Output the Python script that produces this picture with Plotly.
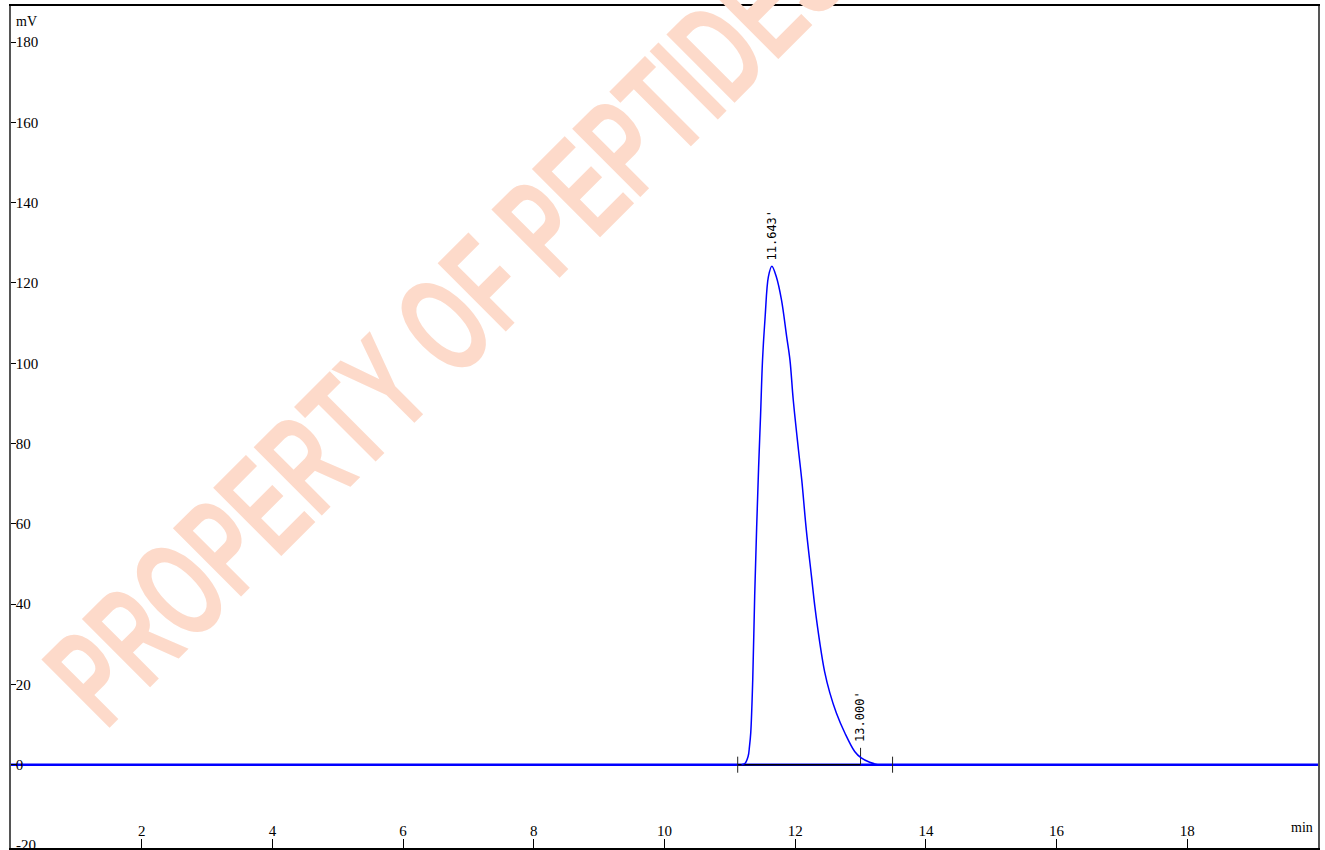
import plotly.graph_objects as go

# ---- data ----
peak_time = [11.18, 11.23, 11.28, 11.30, 11.32, 11.35, 11.38, 11.41, 11.44, 11.47,
             11.50, 11.54, 11.59, 11.643, 11.71, 11.79, 11.87, 11.92, 11.97, 12.05,
             12.10, 12.17, 12.25, 12.30, 12.38, 12.45, 12.53, 12.63, 12.76, 12.91,
             13.01, 13.14, 13.26]
peak_mv = [0.0, 0.3, 2.1, 4.5, 8.0, 21.0, 42.0, 59.0, 74.0, 87.0,
           100.8, 111.6, 121.6, 124.2, 121.6, 115.8, 106.6, 100.8, 90.9, 78.4,
           71.0, 58.5, 46.8, 39.5, 30.0, 23.2, 17.9, 12.9, 7.9, 3.3,
           1.7, 0.6, 0.0]
baseline_time = [0.0, 20.0]
baseline_mv = [0.0, 0.0]
integ_start, integ_end = 11.12, 13.49
event_times = [11.12, 13.49]
event_half = 2.0
mark_time = 13.000
mark_top = 4.2
peak_labels = ["11.643'", "13.000'"]
peak_label_times = [11.643, 13.000]
peak_label_mv = [124.2, 4.2]
x_ticks = [2, 4, 6, 8, 10, 12, 14, 16, 18]
y_ticks = [-20, 0, 20, 40, 60, 80, 100, 120, 140, 160, 180]
x_range = [0, 20]
y_range = [-20.75, 189]
watermark = "PROPERTY OF PEPTIDES"

fig = go.Figure()

# blue baseline across full run
fig.add_trace(go.Scatter(x=baseline_time, y=baseline_mv, mode="lines",
                         line=dict(color="#0000FF", width=2.6), hoverinfo="skip"))
# black integration baseline
fig.add_trace(go.Scatter(x=[integ_start, mark_time], y=[0, 0], mode="lines",
                         line=dict(color="#000000", width=1.4), hoverinfo="skip"))
# event tick marks
for t in event_times:
    fig.add_trace(go.Scatter(x=[t, t], y=[-event_half, event_half], mode="lines",
                             line=dict(color="#222222", width=1), hoverinfo="skip"))
fig.add_trace(go.Scatter(x=[mark_time, mark_time], y=[0, mark_top], mode="lines",
                         line=dict(color="#222222", width=1), hoverinfo="skip"))
# peak signal
fig.add_trace(go.Scatter(x=peak_time, y=peak_mv, mode="lines",
                         line=dict(color="#0000FF", width=1.5, shape="spline", smoothing=1.0),
                         hoverinfo="skip"))

# watermark
fig.add_annotation(text=watermark, xref="paper", yref="paper",
                   x=0.333, y=0.624, xanchor="center", yanchor="middle",
                   showarrow=False, textangle=-45,
                   font=dict(family="Liberation Sans, Arial, sans-serif", weight="bold",
                             size=140, color="#FDDACA"))

# peak labels
for lab, t, v in zip(peak_labels, peak_label_times, peak_label_mv):
    fig.add_annotation(text=lab, x=t, y=v, xref="x", yref="y", showarrow=False,
                       textangle=-90, xanchor="center", yanchor="bottom", yshift=4,
                       font=dict(family="DejaVu Sans Mono, Liberation Mono, monospace",
                                 size=12, color="#000000"))

# lowest y tick label, partly cut by the bottom edge as in the original
fig.add_annotation(text=str(y_ticks[0]), x=0, y=y_ticks[0], xref="x", yref="y",
                   xanchor="left", yanchor="middle", xshift=3, showarrow=False,
                   font=dict(family="Liberation Serif, Times New Roman, serif", size=15, color="#000"))

fig.add_annotation(text="mV", xref="paper", yref="paper", x=0.002, y=0.981,
                   xanchor="left", yanchor="middle", showarrow=False,
                   font=dict(family="Liberation Serif, Times New Roman, serif", size=14, color="#000"))
fig.add_annotation(text="min", xref="paper", yref="paper", x=0.998, y=0.024,
                   xanchor="right", yanchor="middle", showarrow=False,
                   font=dict(family="Liberation Serif, Times New Roman, serif", size=14, color="#000"))

fig.update_layout(
    width=1325, height=850,
    margin=dict(l=11, r=7, t=6, b=2),
    paper_bgcolor="white", plot_bgcolor="white",
    showlegend=False,
    xaxis=dict(range=x_range, tickvals=x_ticks, ticks="inside", ticklen=9, tickwidth=1,
               tickcolor="#000", ticklabelposition="inside", showline=True, linecolor="#000",
               linewidth=1.6, mirror=True, showgrid=False, zeroline=False,
               tickfont=dict(family="Liberation Serif, Times New Roman, serif", size=15, color="#000")),
    yaxis=dict(range=y_range, tickvals=y_ticks, ticks="inside", ticklen=5, tickwidth=1,
               tickcolor="#000", ticklabelposition="inside", showline=True, linecolor="#555",
               linewidth=1.6, mirror=True, showgrid=False, zeroline=False,
               tickfont=dict(family="Liberation Serif, Times New Roman, serif", size=15, color="#000")),
)

post = """
document.body.style.margin='0';
document.body.style.overflow='hidden';
var gd = document.getElementById('{plot_id}');
function squeeze(){
  gd.querySelectorAll('text.annotation-text').forEach(function(t){
    if (t.textContent.indexOf('PROPERTY') >= 0) {
      t.setAttribute('textLength', '1060');
      t.setAttribute('lengthAdjust', 'spacingAndGlyphs');
    }
  });
}
squeeze();
setTimeout(squeeze, 50);
if (gd.on) { gd.on('plotly_afterplot', squeeze); }
"""
fig.write_html("out.html", post_script=post, config={"displayModeBar": False})
